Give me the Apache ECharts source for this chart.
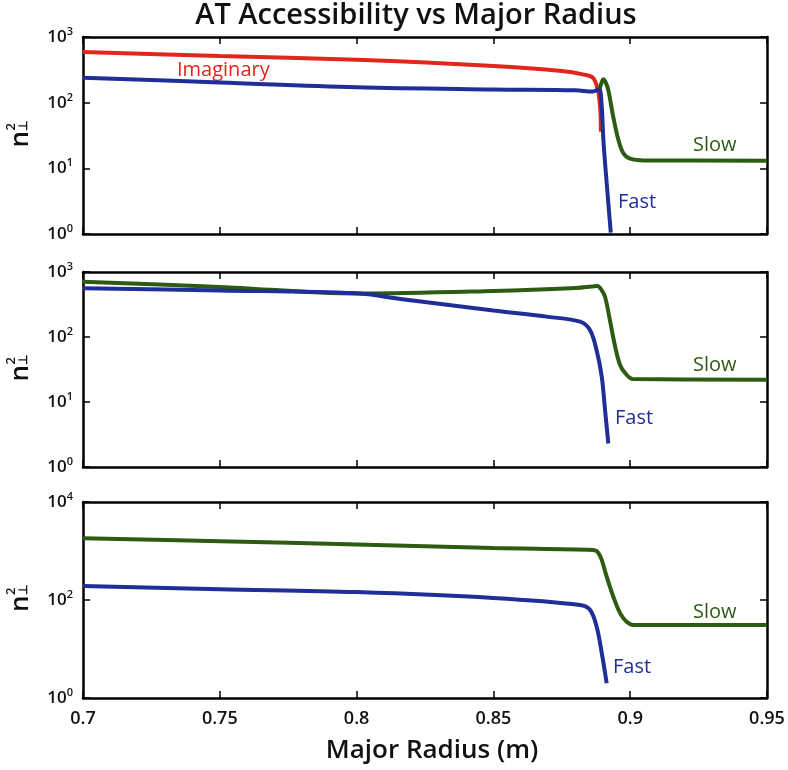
<!DOCTYPE html>
<html>
<head>
<meta charset="utf-8">
<script src="https://cdn.jsdelivr.net/npm/echarts@6/dist/echarts.min.js"></script>
<style>
  html, body { margin: 0; background: #fff; }
  #chart { width: 788px; height: 770px; }
</style>
</head>
<body>
<div id="chart"></div>
<script>
// n_perp^2 vs major radius
const topImaginary = [[0.70, 590], [0.75, 515], [0.80, 450], [0.85, 362], [0.875, 304], [0.8827, 270], [0.8864, 238], [0.8882, 155], [0.889, 86], [0.8893, 36]]
const topFast = [[0.70, 240], [0.75, 203], [0.80, 172], [0.85, 159], [0.88, 154], [0.8864, 148], [0.8882, 158], [0.8888, 163], [0.8896, 87], [0.8902, 27], [0.8914, 6], [0.8929, 1.05]]
const topSlow = [[0.8888, 163], [0.8895, 200], [0.8902, 227], [0.891, 205], [0.892, 155], [0.8938, 61], [0.8957, 27], [0.8975, 17], [0.90, 14], [0.905, 13.2], [0.95, 13.1]]

const midSlow = [[0.70, 710], [0.75, 590], [0.80, 467], [0.85, 510], [0.88, 567], [0.886, 598], [0.888, 610], [0.8895, 530], [0.8908, 415], [0.8926, 180], [0.8945, 71], [0.8963, 37], [0.8981, 28], [0.901, 22.5], [0.95, 22]]
const midFast = [[0.70, 560], [0.75, 520], [0.80, 470], [0.816, 385], [0.85, 255], [0.87, 204], [0.8817, 172], [0.8853, 128], [0.8877, 63], [0.8896, 24.5], [0.8908, 7.6], [0.892, 2.3]]

const lowSlow = [[0.70, 1820], [0.75, 1590], [0.80, 1360], [0.85, 1150], [0.8864, 1050], [0.8877, 1000], [0.8886, 870], [0.8896, 660], [0.8914, 300], [0.8938, 118], [0.8963, 54], [0.8987, 36], [0.9011, 31], [0.95, 31]]
const lowFast = [[0.70, 193], [0.75, 166], [0.80, 145], [0.85, 110], [0.8817, 79], [0.8853, 63], [0.8877, 29], [0.8896, 8.3], [0.8914, 2.0]]

const xMin = 0.7
const xMax = 0.95
const xStep = 0.05

const RED = '#e2261c'
const BLUE = '#1f2e98'
const GREEN = '#2d5b12'
const FONT = 'Open Sans'
const WEIGHT = 600

const panels = [
  {top: 37, height: 197, max: 1000, base: 10, series: [[topImaginary, RED], [topFast, BLUE], [topSlow, GREEN]]},
  {top: 272, height: 195, max: 1000, base: 10, series: [[midSlow, GREEN], [midFast, BLUE]]},
  {top: 502, height: 196, max: 10000, base: 100, series: [[lowSlow, GREEN], [lowFast, BLUE]]}
]

const axisLine = {lineStyle: {color: '#000', width: 2.5}}
const tick = {inside: true, length: 7, lineStyle: {color: '#000', width: 1.5}}

let grid = []
let xAxis = []
let yAxis = []
let series = []
let graphic = []

panels.forEach((p, i) => {
  grid.push({left: 83, width: 684, top: p.top, height: p.height})
  let last = i === panels.length - 1
  // bottom + top x axes
  xAxis.push({
    type: 'value', gridIndex: i, min: xMin, max: xMax, interval: xStep,
    axisLine: axisLine, axisTick: tick, splitLine: {show: false},
    axisLabel: {
      show: last, margin: 12, color: '#111', fontFamily: FONT, fontWeight: WEIGHT, fontSize: 18,
      showMinLabel: true, showMaxLabel: true,
      formatter: (v) => String(Math.round(v * 100) / 100)
    }
  })
  xAxis.push({
    type: 'value', gridIndex: i, position: 'top', min: xMin, max: xMax, interval: xStep,
    axisLine: axisLine, axisTick: tick, splitLine: {show: false}, axisLabel: {show: false}
  })
  // left + right y axes
  let yLabel = {
    margin: 10, color: '#111', fontFamily: FONT, fontWeight: WEIGHT, fontSize: 17,
    formatter: (v) => '10{sup|' + Math.round(Math.log10(v)) + '}',
    rich: {sup: {fontFamily: FONT, fontWeight: WEIGHT, fontSize: 11, color: '#111', padding: [0, 0, 10, 0]}}
  }
  yAxis.push({
    type: 'log', gridIndex: i, logBase: p.base, min: 1, max: p.max,
    axisLine: axisLine, axisTick: tick, splitLine: {show: false}, minorTick: {show: false},
    axisLabel: yLabel
  })
  yAxis.push({
    type: 'log', gridIndex: i, position: 'right', logBase: p.base, min: 1, max: p.max,
    axisLine: axisLine, axisTick: tick, splitLine: {show: false}, axisLabel: {show: false}
  })
  p.series.forEach(([data, color]) => {
    series.push({
      type: 'line', xAxisIndex: i * 2, yAxisIndex: i * 2, data: data,
      showSymbol: false, smooth: 0.35,
      lineStyle: {color: color, width: 4}, itemStyle: {color: color}, z: 3
    })
  })
  // y axis name n_perp^2, turned to read bottom to top
  let gy = p.top + p.height / 2 + 12
  graphic.push({
    type: 'group', x: 27, y: gy, rotation: Math.PI / 2,
    children: [
      {type: 'text', x: 0, y: -6, style: {text: 'n', fontFamily: FONT, fontWeight: WEIGHT, fontSize: 26, fill: '#111', verticalAlign: 'middle'}},
      {type: 'text', x: 17, y: -3, style: {text: '⊥', fontFamily: FONT, fontWeight: WEIGHT, fontSize: 12, fill: '#111', verticalAlign: 'middle'}},
      {type: 'text', x: 17, y: -16, style: {text: '2', fontFamily: FONT, fontWeight: WEIGHT, fontSize: 13, fill: '#111', verticalAlign: 'middle'}}
    ]
  })
})

const labels = [
  ['Imaginary', 177, 70, RED],
  ['Slow', 693, 145, GREEN],
  ['Fast', 618, 202, BLUE],
  ['Slow', 693, 365, GREEN],
  ['Fast', 615, 418, BLUE],
  ['Slow', 693, 612, GREEN],
  ['Fast', 613, 667, BLUE]
]
labels.forEach(([t, x, y, c]) => {
  graphic.push({type: 'text', x: x, y: y, style: {text: t, fontFamily: FONT, fontSize: 20, fill: c, verticalAlign: 'middle'}})
})

graphic.push({type: 'text', x: 416, y: 16, style: {text: 'AT Accessibility vs Major Radius', fontFamily: FONT, fontWeight: WEIGHT, fontSize: 29, fill: '#111', align: 'center', verticalAlign: 'middle'}})
graphic.push({type: 'text', x: 432, y: 751, style: {text: 'Major Radius (m)', fontFamily: FONT, fontWeight: WEIGHT, fontSize: 26, fill: '#111', align: 'center', verticalAlign: 'middle'}})

const chart = echarts.init(document.getElementById('chart'))
chart.setOption({
  animation: false,
  backgroundColor: '#fff',
  grid: grid,
  xAxis: xAxis,
  yAxis: yAxis,
  series: series,
  graphic: graphic
})
</script>
</body>
</html>
